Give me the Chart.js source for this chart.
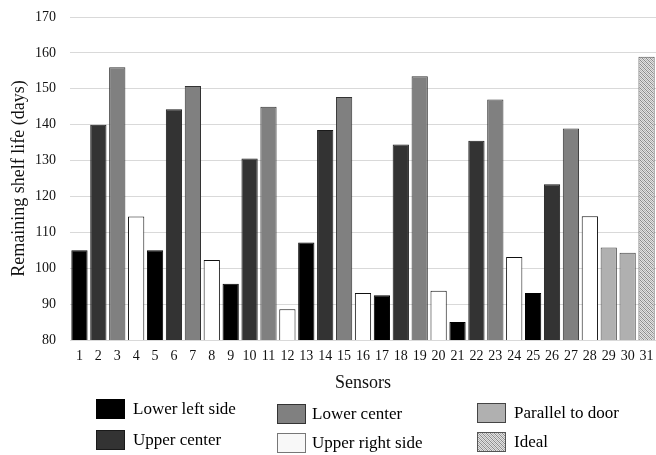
<!DOCTYPE html>
<html>
<head>
<meta charset="utf-8">
<script src="https://cdn.jsdelivr.net/npm/chart.js@4.4.1/dist/chart.umd.min.js"></script>
<style>
  html, body { margin: 0; padding: 0; background: #fff; }
  #wrap { position: relative; width: 656px; height: 455px; }
  #chartBox { position: absolute; left: 0; top: 0; width: 656px; height: 400px; }
  .lg { position: absolute; font-family: "Liberation Serif", "Times New Roman", serif; font-size: 17px; color: #000; line-height: 20px; white-space: nowrap; }
  .sw { position: absolute; width: 29px; height: 20px; box-sizing: border-box; border: 1px solid #333; }
</style>
</head>
<body>
<div id="wrap">
  <div id="chartBox"><canvas id="c"></canvas></div>
  <div id="legend"></div>
</div>
<script>
const categories = ["1","2","3","4","5","6","7","8","9","10","11","12","13","14","15","16","17","18","19","20","21","22","23","24","25","26","27","28","29","30","31"];
const shelfLife = [105, 140, 156, 114.4, 105, 144.3, 150.8, 102.3, 95.7, 130.6, 145, 88.6, 107.2, 138.5, 147.7, 93.1, 92.5, 134.5, 153.5, 93.7, 85, 135.5, 147, 103.1, 93.1, 123.4, 138.9, 114.5, 105.8, 104.3, 158.9];
const sensorGroup = ["Lower left side","Upper center","Lower center","Upper right side",
  "Lower left side","Upper center","Lower center","Upper right side",
  "Lower left side","Upper center","Lower center","Upper right side",
  "Lower left side","Upper center","Lower center","Upper right side",
  "Lower left side","Upper center","Lower center","Upper right side",
  "Lower left side","Upper center","Lower center","Upper right side",
  "Lower left side","Upper center","Lower center","Upper right side",
  "Parallel to door","Parallel to door","Ideal"];
const legendOrder = ["Lower left side","Upper center","Lower center","Upper right side","Parallel to door","Ideal"];
const yTicks = [80, 90, 100, 110, 120, 130, 140, 150, 160, 170];

// hatch pattern for "Ideal"
const pc = document.createElement('canvas');
pc.width = 4; pc.height = 4;
const px = pc.getContext('2d');
px.fillStyle = '#e2e2e2'; px.fillRect(0, 0, 4, 4);
px.fillStyle = '#8a8a8a';
for (let i = 0; i < 4; i++) { px.fillRect(i, i, 1, 1); }
px.fillStyle = '#b5b5b5';
px.fillRect(2, 0, 1, 1); px.fillRect(0, 2, 1, 1); px.fillRect(3, 1, 1, 1); px.fillRect(1, 3, 1, 1);
const hatch = document.getElementById('c').getContext('2d').createPattern(pc, 'repeat');

const fillFor = {
  "Lower left side": "#000000",
  "Upper center": "#333333",
  "Lower center": "#808080",
  "Upper right side": "#ffffff",
  "Parallel to door": "#b0b0b0",
  "Ideal": hatch
};
const borderFor = {
  "Lower left side": "#000000",
  "Upper center": "#1a1a1a",
  "Lower center": "#333333",
  "Upper right side": "#111111",
  "Parallel to door": "#444444",
  "Ideal": "#555555"
};

const serif = "'Liberation Serif', 'Times New Roman', serif";

new Chart(document.getElementById('c'), {
  type: 'bar',
  data: {
    labels: categories,
    datasets: [{
      data: shelfLife,
      backgroundColor: sensorGroup.map(g => fillFor[g]),
      borderColor: sensorGroup.map(g => borderFor[g]),
      borderWidth: 1,
      barPercentage: 0.86,
      categoryPercentage: 1.0
    }]
  },
  options: {
    responsive: true,
    maintainAspectRatio: false,
    animation: false,
    devicePixelRatio: 1,
    layout: { padding: { top: 17, right: 0, left: 0, bottom: 0 } },
    plugins: { legend: { display: false }, tooltip: { enabled: false } },
    scales: {
      x: {
        grid: { display: false, drawTicks: false },
        border: { display: true, color: '#d9d9d9', width: 1 },
        ticks: { color: '#111', font: { family: serif, size: 14 }, padding: 8, maxRotation: 0, autoSkip: false },
        title: { display: true, text: 'Sensors', color: '#111', font: { family: serif, size: 18 }, padding: { top: 4, bottom: 6 } },
        afterFit: (s) => { s.height = 60; s.paddingLeft = 0; s.paddingRight = 0; }
      },
      y: {
        min: 80, max: 170,
        afterBuildTicks: (s) => { s.ticks = yTicks.map(v => ({ value: v })); },
        grid: { color: '#d9d9d9', lineWidth: 1, drawTicks: false },
        border: { display: false },
        ticks: { color: '#111', font: { family: serif, size: 14 }, padding: 14 },
        title: { display: true, text: 'Remaining shelf life (days)', color: '#111', font: { family: serif, size: 18 }, padding: { top: 8, bottom: 0 } },
        afterFit: (s) => { s.width = 70; s.paddingTop = 0; s.paddingBottom = 0; }
      }
    }
  }
});

// HTML legend
const legendPos = {
  "Lower left side": { bx: 96, by: 399, tx: 133 },
  "Upper center": { bx: 96, by: 430, tx: 133 },
  "Lower center": { bx: 277, by: 404, tx: 312 },
  "Upper right side": { bx: 277, by: 433, tx: 312 },
  "Parallel to door": { bx: 477, by: 403, tx: 514 },
  "Ideal": { bx: 477, by: 432, tx: 514 }
};
const lg = document.getElementById('legend');
const patURL = pc.toDataURL();
legendOrder.forEach(name => {
  const p = legendPos[name];
  const sw = document.createElement('div');
  sw.className = 'sw';
  sw.style.left = p.bx + 'px'; sw.style.top = p.by + 'px';
  if (name === 'Ideal') { sw.style.backgroundImage = 'url(' + patURL + ')'; }
  else { sw.style.background = fillFor[name]; }
  sw.style.borderColor = borderFor[name];
  if (name === 'Upper right side') { sw.style.background = '#f8f8f8'; sw.style.borderColor = '#777'; }
  lg.appendChild(sw);
  const t = document.createElement('div');
  t.className = 'lg';
  t.textContent = name;
  t.style.left = p.tx + 'px'; t.style.top = (p.by) + 'px';
  lg.appendChild(t);
});
</script>
</body>
</html>
